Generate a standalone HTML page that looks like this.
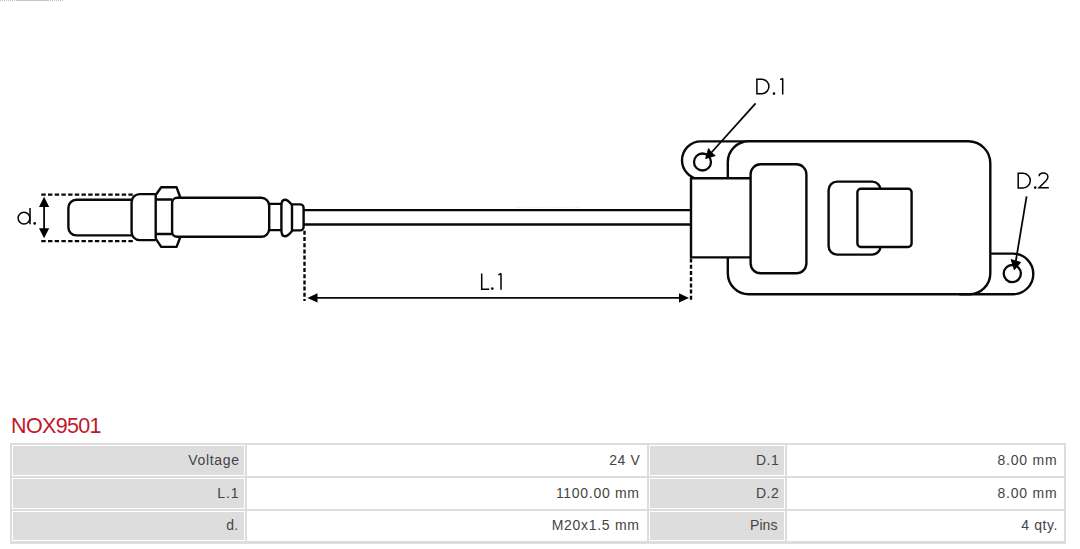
<!DOCTYPE html>
<html><head><meta charset="utf-8">
<style>
html,body{margin:0;padding:0;background:#fff;}
body{width:1080px;height:549px;position:relative;overflow:hidden;font-family:"Liberation Sans",sans-serif;}
svg.dg{position:absolute;left:0;top:0;}
.title{position:absolute;left:11px;top:414px;font-size:21.5px;letter-spacing:-0.65px;color:#c0182a;line-height:24px;white-space:nowrap;}
table.spec{position:absolute;left:10px;top:443px;width:1056px;border-collapse:separate;border-spacing:2px;background:#dddddd;table-layout:fixed;}
table.spec td{border:1px solid #fff;padding:0 0 2px 0;text-align:right;font-size:14px;color:#444;white-space:nowrap;box-sizing:border-box;}
table.spec td.l{background:#dddddd;}
table.spec td.v{background:#fff;}
</style></head><body>
<svg class="dg" width="1080" height="549" viewBox="0 0 1080 549">
<g fill="none" stroke="#080808" stroke-width="2.4" stroke-linejoin="round" stroke-linecap="butt">
  <!-- d dimension dashed lines -->
  <path d="M41.3,194.7 H135 M41.3,241.2 H135" stroke-width="2.3" stroke-dasharray="4.4 2.3"/>
  <!-- probe tip -->
  <path d="M131.6,199.7 H76.4 A8,8 0 0 0 68.4,207.7 V227.4 A8,8 0 0 0 76.4,235.4 H131.6" fill="#fff"/>
  <!-- shoulder -->
  <path d="M155.7,194.1 H139.6 A8,8 0 0 0 131.6,202.1 V232.1 A8,8 0 0 0 139.6,240.1 H155.7" fill="#fff"/>
  <!-- nut -->
  <path d="M155.7,195 L161.2,187.3 H176.6 L180.3,197.5 M155.7,238.7 L161.2,246.9 H176.6 L180.3,237 M155.7,195 V238.7 M155.7,199.5 H172.1 M155.7,234 H172.1"/>
  <!-- body -->
  <path d="M269.2,205 V229 A8,8 0 0 1 261.2,236.8 H177.1 A5,5 0 0 1 172.1,231.8 V202.8 A5,5 0 0 1 177.1,197.8 H261.2 A8,8 0 0 1 269.2,205.8" fill="#fff"/>
  <!-- small cyl 1 -->
  <path d="M269.2,203.9 H281.4 M269.2,230.1 H281.4"/>
  <!-- bulb -->
  <path d="M292,205 C290,202.6 287.8,199.8 285,199.8 C282.5,199.8 281.4,202.2 281.4,206 V230 C281.4,233.8 282.5,236.3 285,236.3 C287.8,236.3 290,233.4 292,231 Z" fill="#fff"/>
  <!-- small cyl 2 -->
  <path d="M292,204.4 H300.2 A3.4,3.4 0 0 1 303.6,207.8 V227 A3.4,3.4 0 0 1 300.2,230.4 H292"/>
  <!-- cable -->
  <path d="M303.6,210.1 H691 M303.6,224.5 H691"/>
  <!-- L.1 dimension -->
  <path d="M304.5,230.8 V301 M691,258.6 V301" stroke-width="2.4" stroke-dasharray="4 2.2"/>
  <path d="M316,297.9 H680" stroke-width="1.8"/>
  <path d="M307.4,297.9 L317.5,293.3 V302.5 Z M689,297.9 L679,293.3 V302.5 Z" fill="#000" stroke="none"/>
  <!-- d arrow -->
  <path d="M44.1,205 V229" stroke-width="1.8"/>
  <path d="M44.1,196.8 L49.2,206.9 H39 Z M44.1,238.3 L49.2,228.2 H39 Z" fill="#000" stroke="none"/>

  <!-- ear D.1 -->
  <path d="M760,141.4 H700.9 A18.9,18.9 0 0 0 700.9,179.2 H760 Z" fill="#fff"/>
  <!-- tab D.2 -->
  <path d="M960,253.6 H1013 A20.3,20.3 0 0 1 1013,294.2 H960 Z" fill="#fff"/>
  <!-- housing -->
  <path d="M748.8,141.3 H968.3 A22,22 0 0 1 990.3,163.3 V273.2 A21,21 0 0 1 969.3,294.2 H748.8 A21,21 0 0 1 727.8,273.2 V162.3 A21,21 0 0 1 748.8,141.3 Z" fill="#fff"/>
  <!-- plug -->
  <path d="M760,178.3 H691 V257.4 H760" fill="#fff"/>
  <!-- connector -->
  <rect x="750.6" y="164.3" width="55.8" height="109" rx="10" fill="#fff"/>
  <!-- back rounded rect -->
  <rect x="828.6" y="181.6" width="52" height="73" rx="8.5" fill="#fff"/>
  <!-- front square -->
  <rect x="857.4" y="188.7" width="54.2" height="58.3" rx="3.5" fill="#fff"/>
  <!-- holes -->
  <circle cx="702.5" cy="162" r="8.5" stroke-width="2.3"/>
  <circle cx="1012.3" cy="273.6" r="8.6" stroke-width="2.3"/>
  <!-- leaders -->
  <path d="M755.6,103.3 L711,153" stroke-width="1.8"/>
  <path d="M705.7,158.5 L708.6,148.6 L711.2,152.6 L715.2,155.6 Z" fill="#000" stroke="#000" stroke-width="1"/>
  <path d="M1026.6,196.3 L1015.5,263" stroke-width="1.8"/>
  <path d="M1014.3,269.7 L1011.2,259.6 L1015.8,261 L1020.6,262.4 Z" fill="#000" stroke="#000" stroke-width="1"/>
</g>
<!-- labels -->
<g fill="none" stroke="#000" stroke-width="1.5" stroke-linecap="butt" stroke-linejoin="miter">
  <!-- d. -->
  <circle cx="24" cy="218.1" r="5.9"/>
  <path d="M30,207.9 V224.2"/>
  <!-- D.1 -->
  <path d="M756.9,79.15 V93.7 H762.2 A7.3,7.3 0 0 0 762.2,79.15 Z"/>
  <path d="M782.7,78.6 V94.4 M780.1,79.6 L782.9,78.4"/>
  <!-- D.2 -->
  <path d="M1018.2,173.3 V187.9 H1023 A7.3,7.3 0 0 0 1023,173.3 Z"/>
  <path d="M1039.1,176.3 C1039.1,173.9 1041.2,172.9 1043.5,172.9 C1046,172.9 1047.9,174.6 1047.9,176.9 C1047.9,178.6 1047,179.8 1045.6,181.2 L1039,187.8 H1048.8"/>
  <!-- L.1 -->
  <path d="M481.7,273.4 V289.2 H489.3"/>
  <path d="M501,273.6 V289.7 M498.4,274.9 L501.2,273.5"/>
</g>
<g fill="#000">
  <circle cx="34.7" cy="223.4" r="1.3"/>
  <circle cx="774" cy="93.6" r="1.3"/>
  <circle cx="1035.2" cy="187.6" r="1.3"/>
  <circle cx="492.3" cy="288.6" r="1.3"/>
</g>
</svg>
<div style="position:absolute;left:0;top:0;width:64px;height:1px;background:repeating-linear-gradient(90deg,#c4c4c4 0 1px,transparent 1px 2px)"></div>
<div style="position:absolute;left:16px;top:0;width:32px;height:1px;background:#c8c4c0"></div>
<div style="position:absolute;left:516px;top:207px;width:64px;height:1px;background:repeating-linear-gradient(90deg,#e4e4e4 0 1px,transparent 1px 3px)"></div>
<div class="title">NOX9501</div>
<table class="spec">
<colgroup><col style="width:233px"><col style="width:400px"><col style="width:136px"><col style="width:277px"></colgroup>
<tr style="height:31px"><td class="l" style="letter-spacing:0.67px;padding-right:4.33px">Voltage</td><td class="v" style="letter-spacing:0.63px;padding-right:5.47px">24 V</td><td class="l" style="letter-spacing:0.6px;padding-right:4.5px">D.1</td><td class="v" style="letter-spacing:0.78px;padding-right:5.62px">8.00 mm</td></tr>
<tr style="height:31px"><td class="l" style="letter-spacing:0.95px;padding-right:4.45px">L.1</td><td class="v" style="letter-spacing:0.7px;padding-right:6.3px">1100.00 mm</td><td class="l" style="letter-spacing:0.6px;padding-right:4.5px">D.2</td><td class="v" style="letter-spacing:0.78px;padding-right:5.62px">8.00 mm</td></tr>
<tr style="height:30px"><td class="l" style="letter-spacing:0.3px;padding-right:5.5px">d.</td><td class="v" style="letter-spacing:0.71px;padding-right:6.29px">M20x1.5 mm</td><td class="l" style="letter-spacing:0.1px;padding-right:6.4px">Pins</td><td class="v" style="letter-spacing:0.58px;padding-right:5.02px">4 qty.</td></tr>
</table>
<div style="position:absolute;left:10px;top:543px;width:1056px;height:1px;background:#dedede"></div>
</body></html>
